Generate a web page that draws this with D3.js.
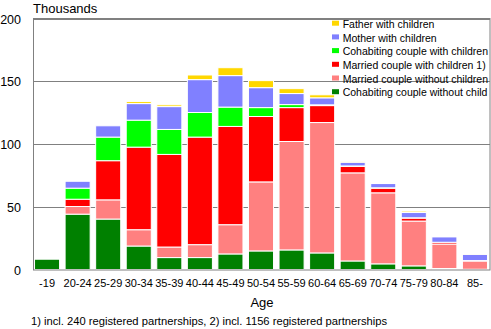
<!DOCTYPE html>
<html><head><meta charset="utf-8">
<script src="https://cdn.jsdelivr.net/npm/d3@7"></script>
<style>
html,body{margin:0;padding:0;background:#fff;}
svg{display:block;font-family:"Liberation Sans",Arial,sans-serif;}
</style></head>
<body><svg id="c" width="491" height="329"></svg>
<script>
const categories = ["-19","20-24","25-29","30-34","35-39","40-44","45-49","50-54","55-59","60-64","65-69","70-74","75-79","80-84","85-"];
const seriesNames = ["Cohabiting couple without child","Married couple without children","Married couple with children 1)","Cohabiting couple with children","Mother  with children","Father with children"];
const cohabNoChildren   = [8.2, 44.1, 40.2, 18.7, 9.5, 9.5, 12.4, 14.8, 15.6, 13.2, 6.8, 4.5, 2.9, 0.8, 0.2];
const marriedNoChildren = [0, 6.1, 15.3, 13.0, 8.4, 10.3, 23.3, 55.0, 86.4, 103.9, 70.2, 56.6, 35.7, 19.5, 6.6];
const marriedChildren   = [0, 5.8, 31.2, 65.8, 73.8, 85.7, 78.3, 52.1, 27.0, 13.5, 5.2, 3.7, 2.4, 1.4, 0.3];
const cohabChildren     = [0, 8.8, 18.8, 21.5, 19.9, 19.6, 15.4, 7.1, 2.4, 0.6, 0.3, 0.3, 0.2, 0, 0];
const motherChildren    = [0, 5.5, 9.0, 13.2, 18.2, 26.2, 25.1, 15.9, 8.8, 5.6, 3.0, 3.4, 4.2, 4.4, 5.0];
const fatherChildren    = [0, 0, 0, 1.6, 1.4, 3.7, 6.3, 5.6, 3.9, 2.4, 0.3, 0.8, 1.1, 0.2, 0.1];
const yTicks = [0, 50, 100, 150, 200];
const colors = ["#008000","#FF8080","#FF0000","#00FF00","#8080FF","#FFD700"];

const seriesValues = [cohabNoChildren, marriedNoChildren, marriedChildren, cohabChildren, motherChildren, fatherChildren];
const rows = categories.map((c,i)=>{const o={cat:c}; seriesNames.forEach((s,k)=>o[s]=seriesValues[k][i]); return o;});
const stacked = d3.stack().keys(seriesNames)(rows);

const svg = d3.select("#c");
const L=33, R=490, T=18.5, B=269.5;
const x = d3.scaleBand().domain(categories).range([L, 489]).paddingInner(0.18).paddingOuter(0.05);
const y = d3.scaleLinear().domain([0,200]).range([B, T]);
const color = d3.scaleOrdinal().domain(seriesNames).range(colors);

// gridlines
svg.append("g").selectAll("line").data(yTicks.filter(t=>t>0)).join("line")
  .attr("x1",L).attr("x2",R).attr("y1",d=>Math.round(y(d))+0.5).attr("y2",d=>Math.round(y(d))+0.5)
  .attr("stroke","#808080").attr("stroke-width",1);

// y labels
const yAxis = svg.append("g").attr("transform",`translate(21,0)`)
  .call(d3.axisLeft(y).tickValues(yTicks).tickSize(0).tickPadding(0));
yAxis.select(".domain").remove();
yAxis.selectAll("text").attr("font-size",12.5).attr("font-family","Liberation Sans, Arial, sans-serif").attr("fill","#000").attr("text-anchor","end").attr("dy","0.36em");

// bars
svg.append("g").selectAll("g").data(stacked).join("g").attr("fill",d=>color(d.key))
  .selectAll("rect").data(d=>d.filter(s=>s[1]-s[0]>0)).join("rect")
  .attr("x",d=>x(d.data.cat)).attr("width",x.bandwidth())
  .attr("y",d=>y(d[1])).attr("height",d=>Math.max(0.01,y(d[0])-y(d[1])))
  .attr("stroke","#fff").attr("stroke-width",1);

// frame
svg.append("rect").attr("x",L+0.5).attr("y",T).attr("width",R-L-0.5).attr("height",B-T+0.5)
  .attr("fill","none").attr("stroke","#808080").attr("stroke-width",1);

// x labels
const xAxis = svg.append("g").attr("transform",`translate(0,${B})`)
  .call(d3.axisBottom(x).tickSize(0).tickPadding(0));
xAxis.select(".domain").remove();
xAxis.selectAll("text").attr("font-size",11).attr("font-family","Liberation Sans, Arial, sans-serif").attr("fill","#000").attr("y",17.5).attr("dy",0);

svg.append("text").attr("x",33).attr("y",13.3).attr("font-size",13).text("Thousands");
svg.append("text").attr("x",262).attr("y",306.5).attr("font-size",13).attr("text-anchor","middle").text("Age");
svg.append("text").attr("x",31).attr("y",325).attr("font-size",11.2).text("1) incl. 240 registered partnerships, 2) incl. 1156 registered partnerships");

// legend
svg.append("defs").append("clipPath").attr("id","lc").append("rect").attr("x",0).attr("y",0).attr("width",490).attr("height",329);
const legendOrder = seriesNames.slice().reverse();
const lg = svg.append("g").attr("clip-path","url(#lc)").selectAll("g").data(legendOrder).join("g")
  .attr("transform",(d,i)=>`translate(332,${20.7+i*13.7})`);
lg.append("rect").attr("width",7).attr("height",5).attr("fill",d=>color(d));
lg.append("text").attr("x",10.7).attr("y",7.2).attr("font-size",10.5).text(d=>d);
</script></body></html>
